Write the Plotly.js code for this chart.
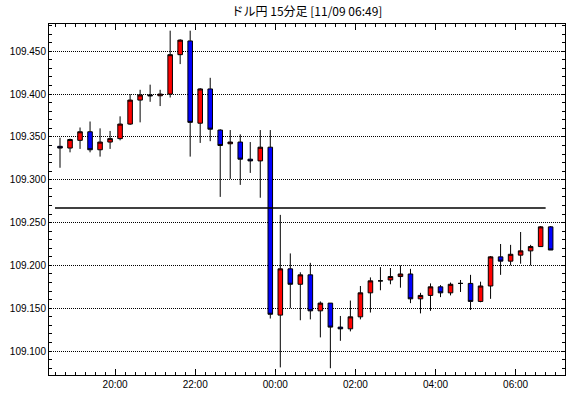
<!DOCTYPE html>
<html>
<head>
<meta charset="utf-8">
<script src="https://cdn.plot.ly/plotly-3.0.1.min.js"></script>
<style>html,body{margin:0;padding:0;background:#fff;}#chart{width:570px;height:398px;}</style>
</head>
<body>
<div id="chart"></div>
<script>
const times = [
 '2019-11-08 18:30','2019-11-08 18:45','2019-11-08 19:00','2019-11-08 19:15','2019-11-08 19:30',
 '2019-11-08 19:45','2019-11-08 20:00','2019-11-08 20:15','2019-11-08 20:30','2019-11-08 20:45',
 '2019-11-08 21:00','2019-11-08 21:15','2019-11-08 21:30','2019-11-08 21:45','2019-11-08 22:00',
 '2019-11-08 22:15','2019-11-08 22:30','2019-11-08 22:45','2019-11-08 23:00','2019-11-08 23:15',
 '2019-11-08 23:30','2019-11-08 23:45','2019-11-09 00:00','2019-11-09 00:15','2019-11-09 00:30',
 '2019-11-09 00:45','2019-11-09 01:00','2019-11-09 01:15','2019-11-09 01:30','2019-11-09 01:45',
 '2019-11-09 02:00','2019-11-09 02:15','2019-11-09 02:30','2019-11-09 02:45','2019-11-09 03:00',
 '2019-11-09 03:15','2019-11-09 03:30','2019-11-09 03:45','2019-11-09 04:00','2019-11-09 04:15',
 '2019-11-09 04:30','2019-11-09 04:45','2019-11-09 05:00','2019-11-09 05:15','2019-11-09 05:30',
 '2019-11-09 05:45','2019-11-09 06:00','2019-11-09 06:15','2019-11-09 06:30','2019-11-09 06:45'
];
const openVals = [
 109.339,109.337,109.346,109.356,109.335,109.344,109.348,109.365,109.393,109.399,
 109.398,109.400,109.446,109.462,109.366,109.406,109.358,109.342,109.344,109.324,
 109.322,109.338,109.142,109.196,109.178,109.189,109.147,109.156,109.128,109.126,
 109.140,109.168,109.182,109.183,109.187,109.190,109.161,109.165,109.175,109.168,
 109.179,109.179,109.158,109.176,109.210,109.205,109.212,109.217,109.222,109.245
];
const highVals = [
 109.349,109.348,109.361,109.368,109.360,109.357,109.374,109.400,109.405,109.411,
 109.405,109.474,109.464,109.474,109.407,109.419,109.359,109.358,109.353,109.344,
 109.358,109.358,109.259,109.214,109.192,109.203,109.158,109.156,109.141,109.159,
 109.176,109.186,109.198,109.197,109.200,109.196,109.168,109.179,109.177,109.180,
 109.183,109.189,109.181,109.211,109.225,109.224,109.239,109.224,109.246,109.246
];
const lowVals = [
 109.314,109.332,109.336,109.332,109.327,109.336,109.346,109.364,109.367,109.391,
 109.386,109.396,109.435,109.327,109.343,109.345,109.280,109.301,109.294,109.308,
 109.279,109.138,109.081,109.150,109.136,109.137,109.116,109.080,109.112,109.123,
 109.137,109.145,109.171,109.178,109.174,109.156,109.144,109.147,109.163,109.165,
 109.169,109.148,109.157,109.161,109.189,109.200,109.202,109.200,109.222,109.218
];
const closeVals = [
 109.337,109.347,109.356,109.335,109.344,109.348,109.365,109.393,109.399,109.398,
 109.400,109.446,109.463,109.367,109.406,109.359,109.340,109.344,109.324,109.322,
 109.338,109.143,109.196,109.178,109.189,109.147,109.156,109.128,109.126,109.140,
 109.168,109.182,109.182,109.187,109.190,109.161,109.165,109.175,109.168,109.178,
 109.179,109.158,109.176,109.210,109.205,109.213,109.217,109.222,109.245,109.218
];
const refTimes = ['2019-11-08 18:30','2019-11-09 06:45'];
const refLevel = [109.267,109.267];
const xTickVals = ['2019-11-08 20:00','2019-11-08 22:00','2019-11-09 00:00','2019-11-09 02:00','2019-11-09 04:00','2019-11-09 06:00'];
const xTickText = ['20:00','22:00','00:00','02:00','04:00','06:00'];
const yTickVals = [109.100,109.150,109.200,109.250,109.300,109.350,109.400,109.450];
const yTickText = ['109.100','109.150','109.200','109.250','109.300','109.350','109.400','109.450'];
const titleText = 'ドル円 15分足 [11/09 06:49]';

const traces = [
 {
  type:'candlestick', x: times, open: openVals, high: highVals, low: lowVals, close: closeVals,
  xperiod: 15*60*1000, xperiodalignment: 'middle',
  increasing: {line:{color:'#000000', width:1}, fillcolor:'#ff0000'},
  decreasing: {line:{color:'#000000', width:1}, fillcolor:'#0000ff'},
  whiskerwidth: 0, hoverinfo:'skip', showlegend:false
 },
 {
  type:'scatter', mode:'lines', x: refTimes, y: refLevel,
  line:{color:'#000000', width:1.3}, hoverinfo:'skip', showlegend:false
 }
];

const tickFont = {family:'Liberation Sans, Arial, sans-serif', size:10, color:'#000'};
const layout = {
 width:570, height:398,
 margin:{l:49, r:5, t:24, b:23, pad:0},
 paper_bgcolor:'#ffffff', plot_bgcolor:'#ffffff',
 showlegend:false,
 boxgap:0.35,
 title:{text:titleText, x:0.5, xref:'paper', xanchor:'center', y:1-12/398, yref:'container', yanchor:'middle',
   font:{family:'Noto Sans CJK JP, sans-serif', size:12, color:'#000'}},
 xaxis:{
  type:'date', range:['2019-11-08 18:21','2019-11-09 07:14'],
  rangeslider:{visible:false},
  tickmode:'array', tickvals:xTickVals, ticktext:xTickText,
  ticks:'inside', ticklen:6, tickwidth:1, tickcolor:'#000',
  showline:true, linecolor:'#000', linewidth:1, mirror:'ticks',
  showgrid:false, zeroline:false,
  tickfont:tickFont,
  minor:{dtick:15*60*1000, tick0:'2019-11-08 18:00', ticks:'inside', ticklen:3, tickwidth:1, tickcolor:'#000', showgrid:false}
 },
 yaxis:{
  range:[109.0721,109.4818],
  tickmode:'array', tickvals:yTickVals, ticktext:yTickText,
  ticks:'inside', ticklen:3, tickwidth:1, tickcolor:'#000',
  showline:true, linecolor:'#000', linewidth:1, mirror:'ticks',
  showgrid:true, gridcolor:'#000', gridwidth:1, griddash:'1px,1px',
  zeroline:false, tickfont:tickFont,
  minor:{dtick:0.01, tick0:109.0, ticks:'inside', ticklen:3, tickwidth:1, tickcolor:'#000', showgrid:false}
 }
};
Plotly.newPlot('chart', traces, layout, {staticPlot:true, displayModeBar:false});
</script>
</body>
</html>
